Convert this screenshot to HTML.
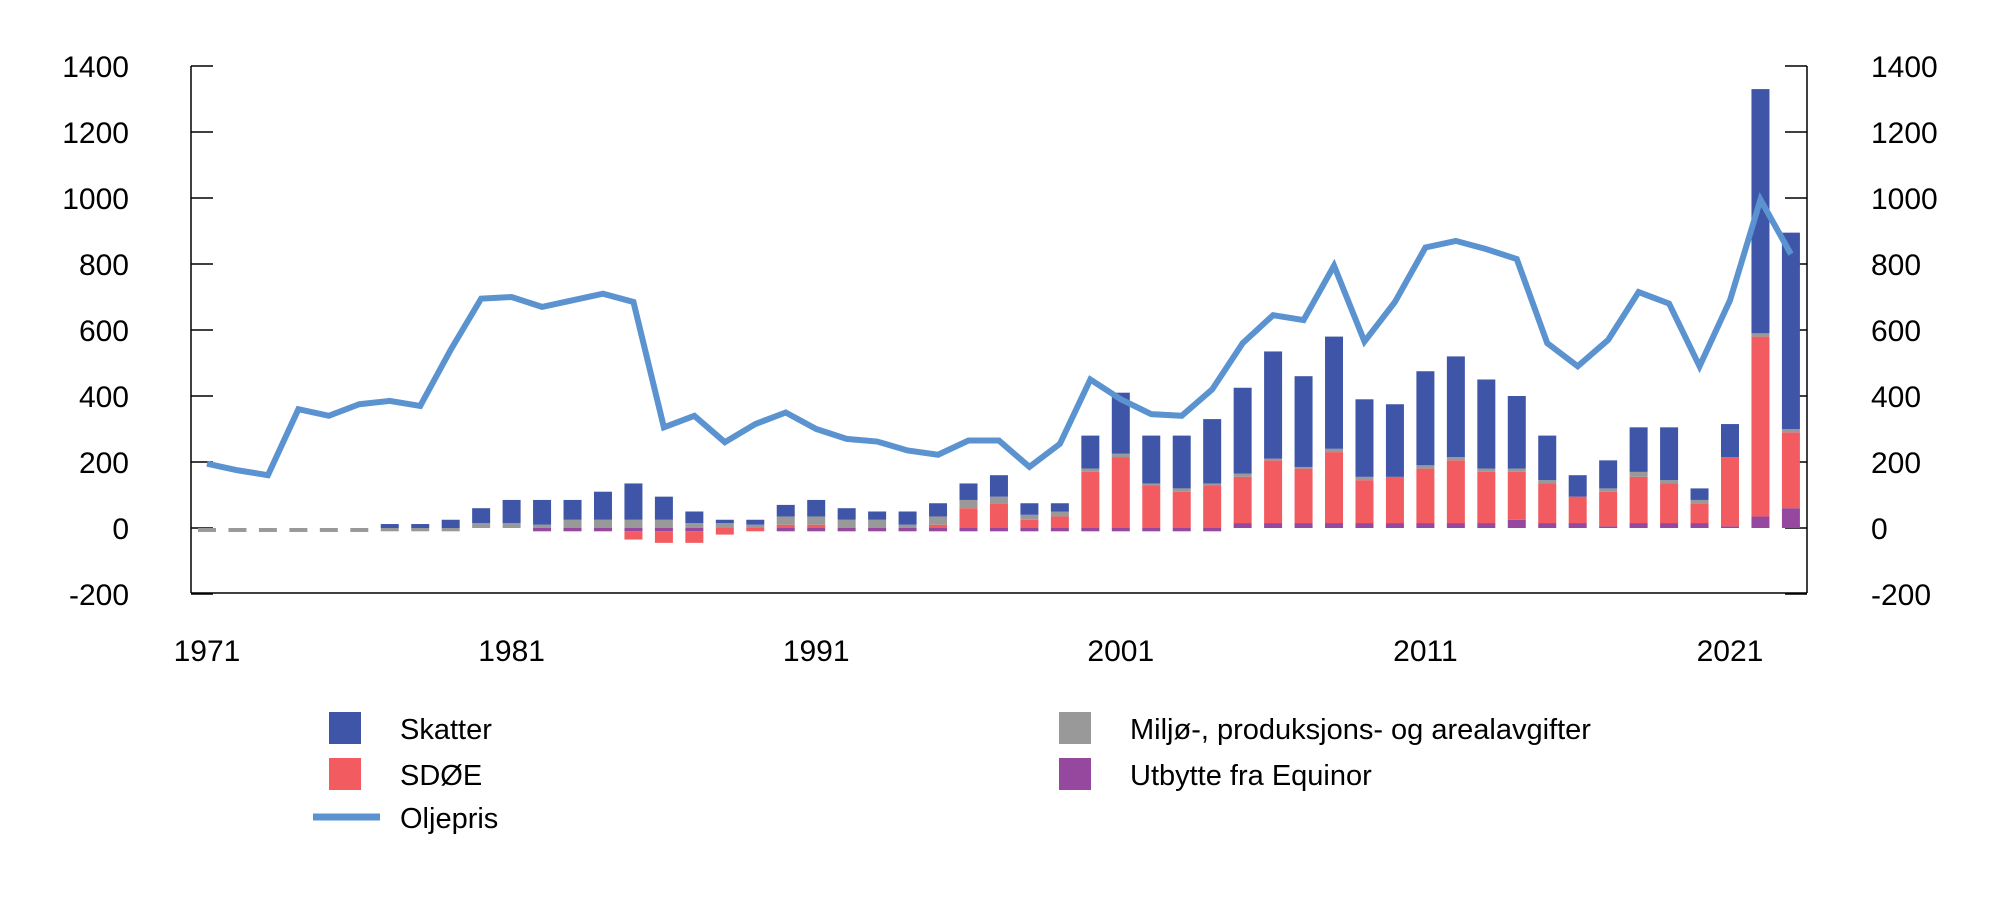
<!DOCTYPE html>
<html><head><meta charset="utf-8"><style>
body{margin:0;background:#fff;}
svg text{font-family:"Liberation Sans",sans-serif;fill:#000;}
</style></head><body>
<svg id="c" width="2000" height="908"></svg>
<script>
const years=[];for(let y=1971;y<=2023;y++)years.push(y);
const skatter=[0,0,0,0,0,0,12,12,25,45,70,75,60,85,110,70,35,10,15,35,50,35,25,40,40,50,65,35,25,100,185,145,160,195,260,325,275,340,235,220,285,305,270,220,135,65,85,135,160,35,100,740,595];
const sdoe=[0,0,0,0,0,0,0,0,0,0,0,0,0,0,-25,-35,-35,-20,-10,10,10,0,0,0,10,60,75,25,35,170,215,130,110,130,140,190,165,215,130,140,165,190,155,145,120,80,105,140,120,60,210,545,230];
const miljo=[-12,-12,-12,-12,-12,-12,-10,-10,-10,15,15,10,25,25,25,25,15,15,10,25,25,25,25,10,25,25,20,15,15,10,10,5,10,5,10,5,5,10,10,0,10,10,10,10,10,0,10,15,10,10,0,10,10];
const utbytte=[0,0,0,0,0,0,0,0,0,0,0,-10,-10,-10,-10,-10,-10,0,0,-10,-10,-10,-10,-10,-10,-10,-10,-10,-10,-10,-10,-10,-10,-10,15,15,15,15,15,15,15,15,15,25,15,15,5,15,15,15,5,35,60];
const oljepris=[195,175,160,360,340,375,385,370,540,695,700,670,690,710,685,305,340,260,315,350,300,270,262,235,222,265,265,185,255,450,390,345,340,420,560,645,630,795,565,685,850,870,845,815,560,490,570,715,680,490,690,995,830];
const yTicks=[1400,1200,1000,800,600,400,200,0,-200];
const xLabels=[1971,1981,1991,2001,2011,2021];
const NS='http://www.w3.org/2000/svg';const svg=document.getElementById('c');
const L=191,R=1807,T=66,B=593;
const x=yr=>207+(yr-1971)*30.46;
const y=v=>528-v*(462/1400);
function mk(t,a,p){const e=document.createElementNS(NS,t);for(const k in a)e.setAttribute(k,a[k]);(p||svg).appendChild(e);return e;}
let e=mk('line',{x1:L,y1:T,x2:L,y2:B,stroke:'#000','stroke-width':1.5});


e=mk('line',{x1:R,y1:T,x2:R,y2:B,stroke:'#000','stroke-width':1.5});


e=mk('line',{x1:L,y1:B,x2:R,y2:B,stroke:'#000','stroke-width':1.5});


yTicks.forEach(v=>{
 mk('line',{x1:L,y1:y(v),x2:L+22,y2:y(v),stroke:'#000','stroke-width':1.5});
 mk('line',{x1:R-22,y1:y(v),x2:R,y2:y(v),stroke:'#000','stroke-width':1.5});
 let t=mk('text',{x:129,y:y(v)+11,'text-anchor':'end','font-size':30});t.textContent=v;
 
 
 t=mk('text',{x:1871,y:y(v)+11,'font-size':30});t.textContent=v;
 
 
});
xLabels.forEach(v=>{let t=mk('text',{x:x(v),y:661,'text-anchor':'middle','font-size':30});t.textContent=v;
 
 });
const series=[[utbytte,'#96479e'],[sdoe,'#f25b5f'],[miljo,'#999999'],[skatter,'#3f55a8']];
years.forEach((yr,i)=>{let pos=0,neg=0;series.forEach(([arr,col])=>{const v=arr[i];if(!v)return;let a,b;
 if(v>0){a=pos;b=pos+v;pos=b;}else{a=neg;b=neg+v;neg=b;}
 const r=mk('rect',{x:x(yr)-9,y:Math.min(y(a),y(b)),width:18,height:Math.abs(y(a)-y(b)),fill:col});
 
 });});
const p=mk('polyline',{points:years.map((yr,i)=>x(yr)+','+y(oljepris[i])).join(' '),fill:'none',stroke:'#5b93d1','stroke-width':6,'stroke-linejoin':'miter'});


const leg=[['Skatter','#3f55a8',329,712],['SDØE','#f25b5f',329,758],['Miljø-, produksjons- og arealavgifter','#999999',1059,712],['Utbytte fra Equinor','#96479e',1059,758]];
leg.forEach(([n,c,lx,ly])=>{const g=mk('g',{});
 
 
 mk('rect',{x:lx,y:ly,width:32,height:32,fill:c},g);
 const t=mk('text',{x:lx+71,y:ly+27,'font-size':29},g);t.textContent=n;});
const g=mk('g',{});


mk('line',{x1:313,y1:817,x2:380,y2:817,stroke:'#5b93d1','stroke-width':7},g);
const t=mk('text',{x:400,y:828,'font-size':29},g);t.textContent='Oljepris';
</script>
</body></html>
